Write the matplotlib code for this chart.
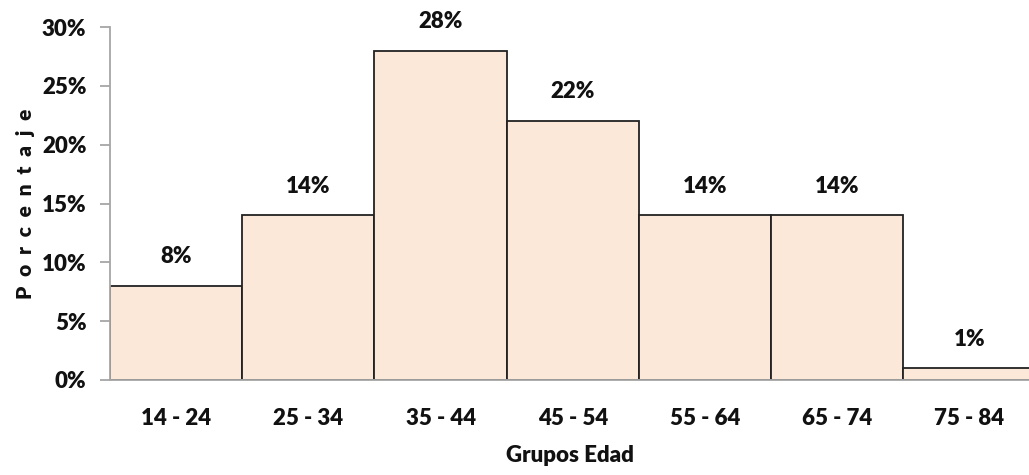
import matplotlib
matplotlib.use("Agg")
import matplotlib.pyplot as plt
from matplotlib.ticker import FuncFormatter, MultipleLocator

grupos = ["14 - 24", "25 - 34", "35 - 44", "45 - 54", "55 - 64", "65 - 74", "75 - 84"]
porcentaje = [8, 14, 28, 22, 14, 14, 1]

plt.rcParams["font.family"] = ["Lato", "DejaVu Sans"]
plt.rcParams["font.weight"] = "bold"

fig = plt.figure(figsize=(10.29, 4.75), dpi=100)
W, H = 1029, 475
left, right, top, bottom = 110, 1029, 27, 380
ax = fig.add_axes([left / W, 1 - bottom / H, (right - left) / W, (bottom - top) / H])

FS = 16
TXT = "#111111"

x = list(range(len(grupos)))
ax.bar(x, porcentaje, width=1.0, color="#FCE8D9", edgecolor="#222222", linewidth=1.3, zorder=2)

for xi, v in zip(x, porcentaje):
    ax.annotate(f"{v}%", (xi, v), xytext=(0, 21), textcoords="offset points",
                ha="center", va="center", fontsize=FS, fontweight="heavy", color=TXT)

ax.set_xlim(-0.5, 6.45)
ax.set_ylim(0, 30)
ax.yaxis.set_major_locator(MultipleLocator(5))
ax.yaxis.set_major_formatter(FuncFormatter(lambda v, p: f"{v:.0f}%"))
ax.set_xticks(x)
ax.set_xticklabels(grupos)

for s in ("top", "right"):
    ax.spines[s].set_visible(False)
for s in ("left", "bottom"):
    ax.spines[s].set_color("#A6A6A6")
    ax.spines[s].set_linewidth(1.3)
ax.spines["bottom"].set_zorder(3)

ax.tick_params(axis="y", direction="out", length=7, width=1.3, color="#A6A6A6",
               labelsize=FS, labelcolor=TXT, pad=10)
ax.tick_params(axis="x", length=0, labelsize=FS, labelcolor=TXT, pad=20)
for lab in ax.get_xticklabels() + ax.get_yticklabels():
    lab.set_fontweight("heavy")

ax.set_xlabel("Grupos Edad", fontsize=FS, fontweight="heavy", color=TXT, labelpad=12)
ax.set_ylabel("P  o  r  c  e  n  t  a  j  e", fontsize=15, fontweight="heavy", color=TXT, labelpad=5)

fig.savefig("out.png", dpi=100)
